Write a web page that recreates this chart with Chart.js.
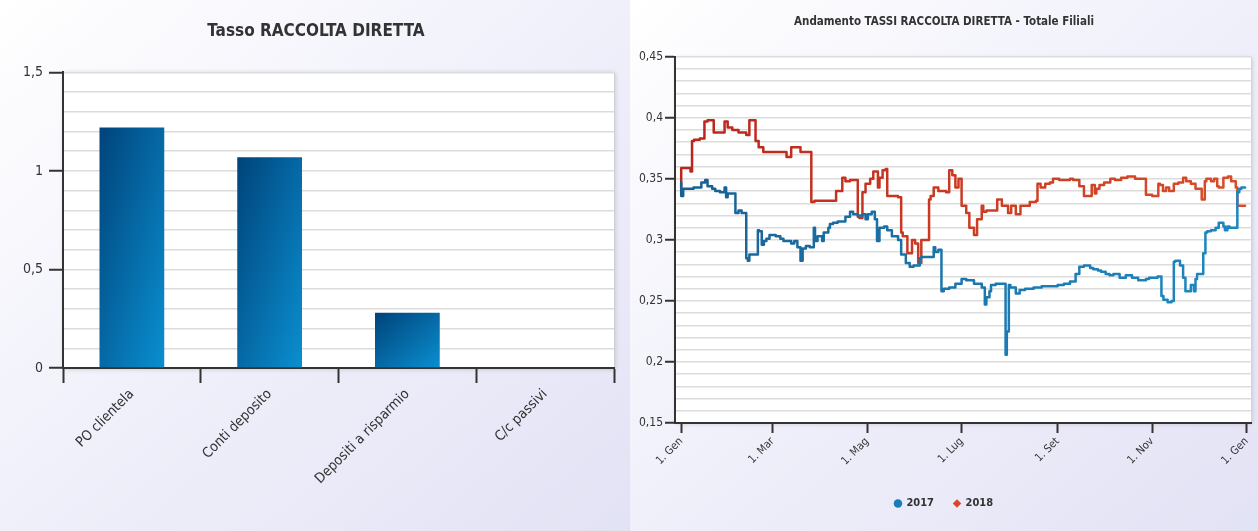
<!DOCTYPE html>
<html lang="it">
<head>
<meta charset="UTF-8">
<title>Tassi raccolta diretta</title>
<script src="https://cdn.jsdelivr.net/npm/chart.js"></script>
<style>
  body { margin: 0; width: 1258px; height: 531px; overflow: hidden; background: #fff; }
  .panel { position: absolute; top: 0; height: 531px; background: linear-gradient(to bottom right, #ffffff 0%, #f1f1fb 45%, #e2e2f5 100%); }
  #left { left: 0; width: 630px; }
  #right { left: 630px; width: 628px; }
</style>
</head>
<body>
<div class="panel" id="left"><canvas id="barChart" width="630" height="531"></canvas></div>
<div class="panel" id="right"><canvas id="lineChart" width="628" height="531"></canvas></div>

<script>
// --- bar chart data
const barCategories = ['PO clientela', 'Conti deposito', 'Depositi a risparmio', 'C/c passivi'];
const barValues = [1.22, 1.07, 0.28, 0];

// --- line chart data (day of year, rate)
const monthDays = [0, 59, 120, 181, 243, 304, 365];
const monthLabels = ['1. Gen', '1. Mar', '1. Mag', '1. Lug', '1. Set', '1. Nov', '1. Gen'];

const days2017 = [0, 1.3, 3, 8, 13, 15.5, 17, 20, 22, 25, 28, 29, 30, 33, 35, 37, 39, 42, 43, 44, 47, 49.5, 50.3, 52, 53.4, 55, 57, 61, 64, 66, 69, 71, 73, 75, 77, 78.4, 80.5, 83, 85.6, 86.4, 88, 91, 92, 95, 96, 98, 101, 106, 109, 111, 114, 117, 119, 120.5, 123, 125, 126.4, 128, 131, 133, 136, 140, 142, 145, 147.5, 150, 154, 155, 158, 163, 164, 166, 168, 169.5, 173, 177, 181, 184, 189, 194, 196, 197, 199, 200, 203, 207, 209.4, 210.2, 211.5, 212.5, 216, 218.5, 222, 227.5, 232.7, 238, 243, 247, 251, 254.6, 257, 260, 264, 266, 269, 271, 274, 276.5, 279, 283, 287, 291, 295, 297, 300, 302, 307.5, 310, 311.3, 314, 316.5, 318, 319, 322, 324, 325.5, 327, 329, 331, 332, 333, 334.5, 337, 338.4, 339.6, 342, 345, 347, 350, 351, 352.6, 354, 356, 359, 360.3, 361.6, 364];
const rate2017 = [0.347, 0.336, 0.342, 0.342, 0.343, 0.347, 0.349, 0.344, 0.342, 0.340, 0.339, 0.343, 0.335, 0.338, 0.338, 0.322, 0.324, 0.322, 0.285, 0.283, 0.288, 0.288, 0.308, 0.307, 0.296, 0.299, 0.301, 0.304, 0.303, 0.301, 0.299, 0.299, 0.297, 0.299, 0.294, 0.283, 0.293, 0.295, 0.294, 0.310, 0.299, 0.303, 0.299, 0.306, 0.310, 0.313, 0.314, 0.315, 0.319, 0.323, 0.321, 0.320, 0.321, 0.317, 0.321, 0.323, 0.317, 0.299, 0.310, 0.311, 0.308, 0.303, 0.300, 0.288, 0.281, 0.278, 0.279, 0.285, 0.286, 0.286, 0.294, 0.290, 0.292, 0.258, 0.260, 0.261, 0.264, 0.268, 0.267, 0.264, 0.261, 0.247, 0.253, 0.258, 0.263, 0.264, 0.264, 0.206, 0.225, 0.263, 0.261, 0.256, 0.259, 0.260, 0.261, 0.262, 0.262, 0.263, 0.264, 0.266, 0.272, 0.278, 0.279, 0.277, 0.276, 0.275, 0.274, 0.272, 0.271, 0.272, 0.269, 0.271, 0.269, 0.267, 0.267, 0.268, 0.269, 0.270, 0.254, 0.251, 0.249, 0.250, 0.282, 0.283, 0.279, 0.269, 0.258, 0.258, 0.263, 0.258, 0.268, 0.272, 0.272, 0.289, 0.306, 0.307, 0.308, 0.310, 0.314, 0.311, 0.308, 0.311, 0.310, 0.310, 0.339, 0.342, 0.343];

const days2018 = [0, 1.3, 6, 7, 8.3, 12, 15, 17, 21, 24, 28, 30, 33, 37, 42, 44, 46, 48, 50, 53, 59, 62, 68, 71, 73, 77, 81, 84, 86, 90, 93, 100, 101, 104, 106, 109, 114, 115, 117, 119, 122, 124, 127, 128, 130, 132, 133, 135, 140, 142, 143, 146, 149, 151, 153, 155, 157, 160, 161, 163, 166, 171, 173, 175, 177, 179, 181, 182, 184, 186, 189, 191, 194, 195, 197, 200, 204, 207, 211, 213, 216, 219, 221, 225, 229, 230, 232, 235, 238, 240, 244, 247, 251, 253, 257, 260, 261, 265, 267, 268, 270, 273, 277, 280, 284, 288, 293, 297, 300, 301, 304, 308, 309, 311, 313, 315, 318, 321, 324, 326, 329, 332, 333, 336, 338, 339, 342, 344, 346, 347, 350, 353, 355, 358, 359, 360, 362, 364];
const rate2018 = [0.343, 0.359, 0.359, 0.356, 0.381, 0.382, 0.383, 0.397, 0.398, 0.388, 0.388, 0.397, 0.392, 0.390, 0.388, 0.386, 0.398, 0.398, 0.381, 0.376, 0.372, 0.372, 0.372, 0.368, 0.376, 0.376, 0.372, 0.372, 0.331, 0.332, 0.332, 0.332, 0.340, 0.340, 0.351, 0.348, 0.349, 0.319, 0.318, 0.339, 0.346, 0.350, 0.356, 0.343, 0.351, 0.357, 0.358, 0.336, 0.336, 0.335, 0.306, 0.303, 0.289, 0.300, 0.297, 0.281, 0.300, 0.300, 0.333, 0.336, 0.343, 0.340, 0.339, 0.357, 0.353, 0.343, 0.350, 0.328, 0.328, 0.322, 0.310, 0.304, 0.317, 0.328, 0.323, 0.324, 0.324, 0.333, 0.328, 0.322, 0.328, 0.321, 0.328, 0.328, 0.331, 0.332, 0.346, 0.343, 0.346, 0.347, 0.350, 0.349, 0.349, 0.350, 0.349, 0.344, 0.336, 0.336, 0.345, 0.338, 0.342, 0.345, 0.347, 0.350, 0.349, 0.351, 0.352, 0.350, 0.350, 0.337, 0.337, 0.336, 0.346, 0.345, 0.340, 0.343, 0.340, 0.346, 0.347, 0.351, 0.348, 0.346, 0.342, 0.342, 0.333, 0.348, 0.350, 0.348, 0.350, 0.344, 0.343, 0.351, 0.352, 0.348, 0.343, 0.328, 0.328, 0.328];

Chart.defaults.font.family = '"DejaVu Sans Condensed", "DejaVu Sans", sans-serif';
Chart.defaults.color = '#333';
Chart.defaults.animation = false;

const comma = v => String(Math.round(v * 1000) / 1000).replace('.', ',');
const isStep = (v, step) => Math.abs(v / step - Math.round(v / step)) < 1e-6;

// white plot background with a light shadow
const plotBackground = {
  id: 'plotBackground',
  beforeDraw(chart) {
    const { ctx, chartArea: a } = chart;
    ctx.save();
    ctx.shadowColor = 'rgba(0,0,0,0.18)';
    ctx.shadowBlur = 5;
    ctx.shadowOffsetX = 1;
    ctx.shadowOffsetY = 1;
    ctx.fillStyle = '#fff';
    ctx.fillRect(a.left, a.top, a.right - a.left, a.bottom - a.top);
    ctx.restore();
    ctx.save();
    ctx.strokeStyle = '#cfcfd8';
    ctx.lineWidth = 1;
    ctx.beginPath();
    ctx.moveTo(a.right + 0.5, a.top);
    ctx.lineTo(a.right + 0.5, a.bottom);
    ctx.stroke();
    ctx.restore();
  }
};

// gradient over the bar's own box, like a (0,0)->(1,1) bounding-box gradient
function barFill(c) {
  const chart = c.chart;
  if (!chart.chartArea || c.type !== 'data') return '#0a64a0';
  const xs = chart.scales.x, ys = chart.scales.y;
  const w = xs.width / barCategories.length * 0.47;
  const left = xs.getPixelForValue(c.dataIndex) - w / 2;
  const top = ys.getPixelForValue(c.raw);
  const h = Math.max(1, ys.getPixelForValue(0) - top);
  const k = 2 / (h * h + w * w);
  const g = chart.ctx.createLinearGradient(left, top, left + k * w * h * h, top + k * w * w * h);
  g.addColorStop(0, '#00437a');
  g.addColorStop(1, '#0a8fd0');
  return g;
}

new Chart(document.getElementById('barChart'), {
  type: 'bar',
  data: {
    labels: barCategories,
    datasets: [{
      data: barValues,
      backgroundColor: barFill,
      categoryPercentage: 1,
      barPercentage: 0.47
    }]
  },
  options: {
    responsive: false,
    layout: { padding: { left: 18, right: 16, top: 0, bottom: 0 } },
    plugins: {
      legend: { display: false },
      tooltip: { enabled: false },
      title: {
        display: true,
        text: 'Tasso RACCOLTA DIRETTA',
        color: '#333',
        font: { size: 17, weight: 'bold' },
        padding: { top: 21, bottom: 31 }
      }
    },
    scales: {
      x: {
        afterFit: s => { s.height = 163; },
        border: { display: true, color: '#333', width: 2 },
        grid: { drawOnChartArea: false, tickLength: 15, tickColor: '#333', tickWidth: 2 },
        ticks: { maxRotation: 45, minRotation: 45, font: { size: 14 }, color: '#333', padding: 3 }
      },
      y: {
        min: 0, max: 1.5,
        afterFit: s => { s.width = 45; },
        border: { display: true, color: '#333', width: 2 },
        grid: {
          color: '#dcdcdc',
          lineWidth: 1.5,
          tickLength: 14,
          tickWidth: 2,
          tickColor: c => isStep(c.tick.value, 0.5) ? '#333' : 'rgba(0,0,0,0)'
        },
        ticks: {
          stepSize: 0.1,
          autoSkip: false,
          font: { size: 14 },
          color: '#333',
          padding: 6,
          callback: v => isStep(v, 0.5) ? comma(v) : ''
        }
      }
    }
  },
  plugins: [plotBackground]
});

function lineStroke(dark, light) {
  return c => {
    const chart = c.chart;
    const a = chart.chartArea;
    if (!a) return dark;
    const g = chart.ctx.createLinearGradient(a.left, a.top, a.right, a.bottom);
    g.addColorStop(0, dark);
    g.addColorStop(1, light);
    return g;
  };
}

new Chart(document.getElementById('lineChart'), {
  type: 'line',
  data: {
    datasets: [{
      label: '2017',
      data: days2017.map((d, i) => ({ x: d, y: rate2017[i] })),
      borderColor: lineStroke('#185a8c', '#1d8fc9'),
      backgroundColor: '#1a7db9',
      borderWidth: 2.5,
      borderJoinStyle: 'round',
      borderCapStyle: 'round',
      pointRadius: 0,
      pointStyle: 'circle',
      stepped: 'after'
    }, {
      label: '2018',
      data: days2018.map((d, i) => ({ x: d, y: rate2018[i] })),
      borderColor: lineStroke('#b5221c', '#e2572c'),
      backgroundColor: '#d9472a',
      borderWidth: 2.5,
      borderJoinStyle: 'round',
      borderCapStyle: 'round',
      pointRadius: 0,
      pointStyle: 'rectRot',
      stepped: 'after'
    }]
  },
  options: {
    responsive: false,
    layout: { padding: { left: 5, right: 5, top: 0, bottom: 12 } },
    plugins: {
      tooltip: { enabled: false },
      title: {
        display: true,
        text: 'Andamento TASSI RACCOLTA DIRETTA - Totale Filiali',
        color: '#333',
        font: { size: 11.5, weight: 'bold' },
        padding: { top: 15, bottom: 28 }
      },
      legend: {
        position: 'bottom',
        labels: {
          usePointStyle: true,
          boxWidth: 6,
          boxHeight: 6,
          padding: 20,
          color: '#333',
          font: { size: 11, weight: 'bold' },
          generateLabels: chart => Chart.defaults.plugins.legend.labels.generateLabels(chart)
            .map(l => Object.assign(l, { lineWidth: 0, strokeStyle: l.fillStyle }))
        }
      }
    },
    scales: {
      x: {
        type: 'linear',
        min: -4, max: 368,
        afterFit: s => { s.height = 55; },
        afterBuildTicks: s => { s.ticks = monthDays.map(v => ({ value: v })); },
        border: { display: true, color: '#333', width: 2 },
        grid: { drawOnChartArea: false, tickLength: 10, tickColor: '#333', tickWidth: 2 },
        ticks: {
          autoSkip: false,
          maxRotation: 45, minRotation: 45,
          font: { size: 11 },
          color: '#333',
          padding: 2,
          callback: v => monthLabels[monthDays.indexOf(v)]
        }
      },
      y: {
        min: 0.15, max: 0.45,
        afterFit: s => { s.width = 40; },
        border: { display: true, color: '#333', width: 2 },
        grid: {
          color: '#dcdcdc',
          lineWidth: 1.5,
          tickLength: 10,
          tickWidth: 2,
          tickColor: c => isStep(c.tick.value, 0.05) ? '#333' : 'rgba(0,0,0,0)'
        },
        ticks: {
          stepSize: 0.01,
          autoSkip: false,
          font: { size: 12 },
          color: '#333',
          padding: 2,
          callback: v => isStep(v, 0.05) ? comma(v) : ''
        }
      }
    }
  },
  plugins: [plotBackground]
});
</script>
</body>
</html>
